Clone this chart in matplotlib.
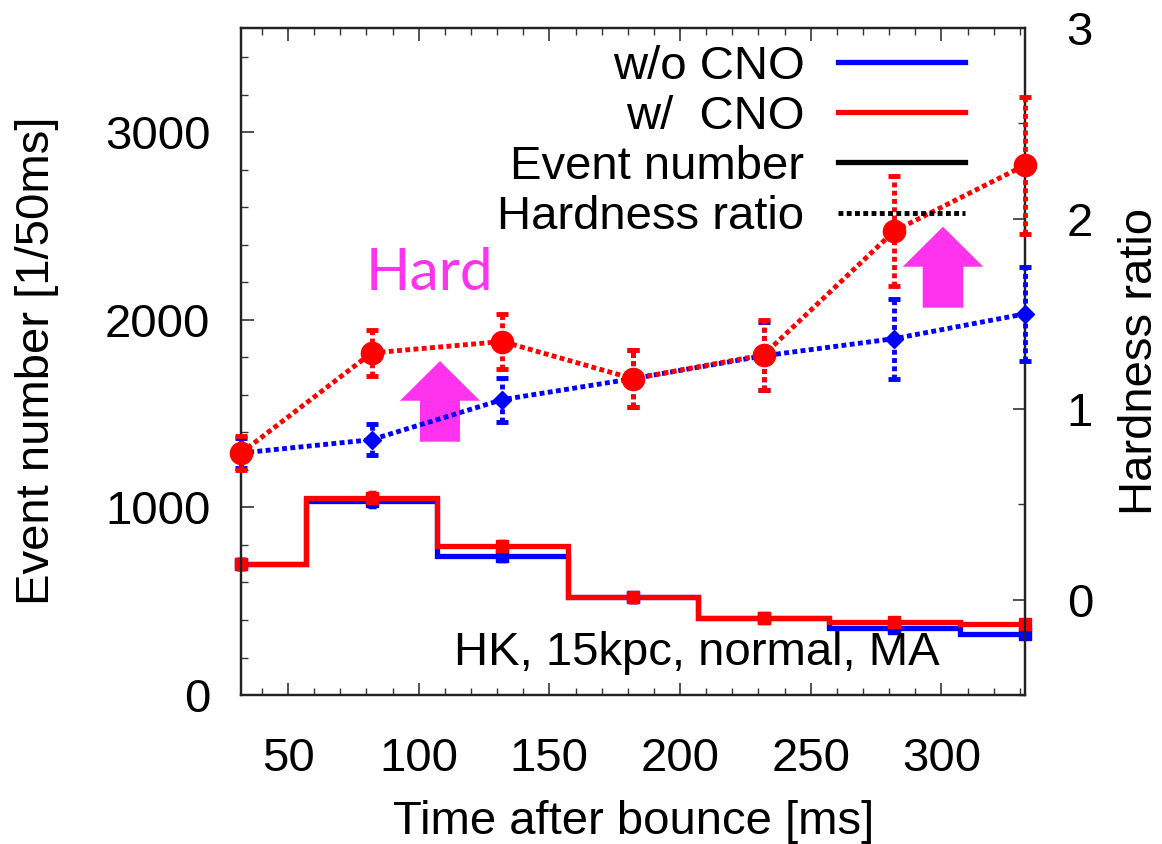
import matplotlib
matplotlib.use("Agg")
import matplotlib.pyplot as plt
from matplotlib.lines import Line2D
from matplotlib.patches import Polygon
from matplotlib.ticker import MultipleLocator

# Time bins (centre of each 50 ms bin, ms after bounce)
time_ms = [32, 82, 132, 182, 232, 282, 332]

# Event numbers per 50 ms bin
events_wo_cno = [700, 1035, 740, 520, 410, 355, 325]
events_w_cno = [700, 1052, 793, 520, 411, 390, 378]
events_err_wo = [26, 32, 27, 23, 20, 19, 18]
events_err_w = [26, 32, 28, 23, 20, 20, 19]

# Hardness ratio with uncertainties
hard_wo_cno = [0.77, 0.84, 1.05, 1.16, 1.28, 1.37, 1.50]
hard_err_wo = [0.08, 0.08, 0.115, 0.15, 0.18, 0.21, 0.245]
hard_w_cno = [0.77, 1.295, 1.355, 1.16, 1.285, 1.935, 2.28]
hard_err_w = [0.09, 0.12, 0.145, 0.15, 0.185, 0.29, 0.36]

x_ticks = [50, 100, 150, 200, 250, 300]
y_ticks = [0, 1000, 2000, 3000]
y2_ticks = [0, 1, 2, 3]

legend_labels = ["w/o CNO", "w/  CNO", "Event number", "Hardness ratio"]
note_text = "HK, 15kpc, normal, MA"
hard_text = "Hard"

BLUE = "#0000ff"
RED = "#ff0000"
MAGENTA = "#ff33ee"
DOT = (0, (1.0, 0.7))

plt.rcParams["font.family"] = ["Liberation Sans", "DejaVu Sans"]
plt.rcParams["font.size"] = 34

fig = plt.figure(figsize=(11.62, 8.44), dpi=100)
ax = fig.add_axes([0.2074, 0.1765, 0.6747, 0.7903])
ax2 = ax.twinx()

# Event-number histograms (left axis)
for vals, errs, col in [(events_wo_cno, events_err_wo, BLUE),
                        (events_w_cno, events_err_w, RED)]:
    ax.step(time_ms, vals, where="mid", color=col, lw=3.8, zorder=3,
            solid_joinstyle="miter")
    ax.errorbar(time_ms, vals, yerr=errs, fmt="s", ms=8, color=col,
                ecolor=col, elinewidth=2.5, capsize=3, capthick=2.5,
                zorder=4, clip_on=False)

# Hardness ratio (right axis)
for vals, errs, col, mk, ms in [(hard_wo_cno, hard_err_wo, BLUE, "D", 9),
                                (hard_w_cno, hard_err_w, RED, "o", 16)]:
    ax2.plot(time_ms, vals, color=col, lw=3.5, ls=DOT, zorder=3,
             dash_capstyle="butt")
    eb = ax2.errorbar(time_ms, vals, yerr=errs, fmt=mk, ms=ms, color=col,
                      ecolor=col, elinewidth=3.5, capsize=4.5, capthick=3.5,
                      zorder=4, clip_on=False)
    for coll in eb[2]:
        coll.set_linestyle(DOT)

# Axis ranges and ticks
ax.set_xlim(32, 332)
ax.set_ylim(0, 3555)
ax2.set_ylim(-0.5, 3)
ax.set_xticks(x_ticks)
ax.set_yticks(y_ticks)
ax2.set_yticks(y2_ticks)
ax.xaxis.set_minor_locator(MultipleLocator(10))
ax.yaxis.set_minor_locator(MultipleLocator(200))
ax2.yaxis.set_minor_locator(MultipleLocator(0.5))

ax.tick_params(axis="x", which="both", direction="in", top=True,
               bottom=True, pad=30, colors="#333333", labelcolor="black")
ax.tick_params(axis="y", which="both", direction="in", left=True,
               right=False, pad=22, colors="#333333", labelcolor="black")
ax2.tick_params(axis="y", which="both", direction="in", right=True,
                left=False, pad=30, colors="#333333", labelcolor="black")
for a in (ax, ax2):
    a.tick_params(which="major", length=9, width=1.2)
    a.tick_params(which="minor", length=5, width=1.0)
    for sp in a.spines.values():
        sp.set_linewidth(1.6)
        sp.set_color("#222222")

# Axis titles
fig.text(0.5454, 0.026, "Time after bounce [ms]", ha="center", va="center")
fig.text(0.032, 0.572, "Event number [1/50ms]", rotation=90,
         ha="center", va="center")
fig.text(0.981, 0.572, "Hardness ratio", rotation=90,
         ha="center", va="center")

# Annotations
ax2.text(0.8916, 0.045, note_text, transform=ax2.transAxes,
         ha="right", va="baseline", zorder=6)
ax2.text(0.2398, 0.607, hard_text, transform=ax2.transAxes, ha="center",
         va="baseline", color=MAGENTA, fontsize=42,
         family=["Lato", "DejaVu Sans"], zorder=6)

# Up arrows: (centre x, bottom, head base, tip, shaft half-width, head half-width)
arrows = [(0.2538, 0.3798, 0.4412, 0.5007, 0.0255, 0.051),
          (0.8954, 0.5807, 0.6421, 0.7021, 0.0259, 0.0514)]
for cx, y0, yh, yt, sw, hw in arrows:
    verts = [(cx - sw, y0), (cx + sw, y0), (cx + sw, yh), (cx + hw, yh),
             (cx, yt), (cx - hw, yh), (cx - sw, yh)]
    ax2.add_patch(Polygon(verts, closed=True, transform=ax2.transAxes,
                          facecolor=MAGENTA, edgecolor="none", zorder=2))

# Legend
handles = [Line2D([], [], color=BLUE, lw=3.8),
           Line2D([], [], color=RED, lw=3.8),
           Line2D([], [], color="black", lw=3.8),
           Line2D([], [], color="black", lw=3.5, ls=DOT)]
leg = ax2.legend(handles, legend_labels, loc="upper right",
                 bbox_to_anchor=(0.9235, 0.975), frameon=False,
                 markerfirst=False, handlelength=2.7, handletextpad=0.7,
                 labelspacing=0.13, borderpad=0, borderaxespad=0,
                 fontsize=34)
leg.set_zorder(7)
for txt in leg.get_texts():
    txt.set_ha("right")

fig.savefig("out.png", dpi=100)
